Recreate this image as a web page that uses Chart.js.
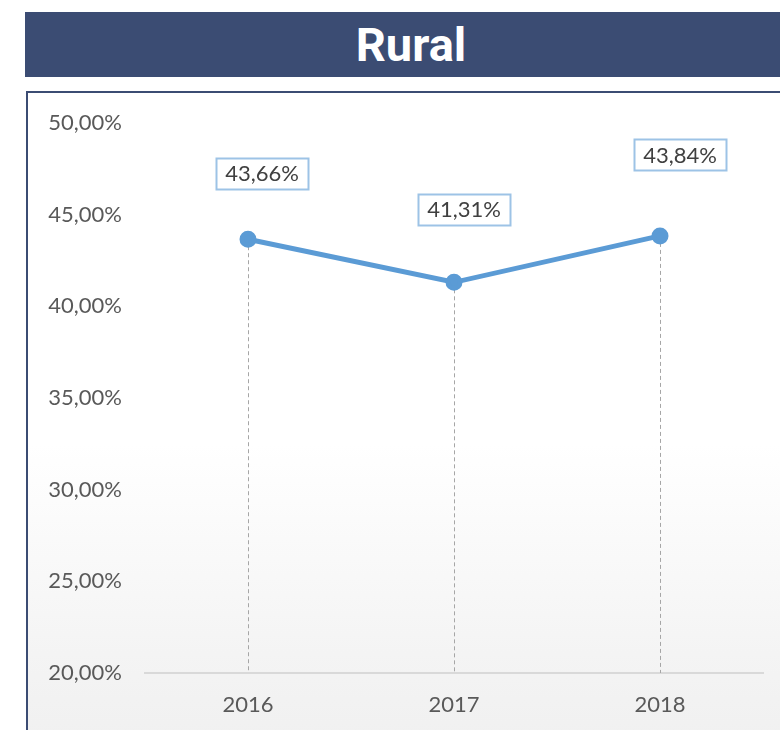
<!DOCTYPE html>
<html>
<head>
<meta charset="utf-8">
<script src="https://cdn.jsdelivr.net/npm/chart.js@4"></script>
<style>
    html, body { margin: 0; padding: 0; background: #ffffff; }
    body { width: 780px; height: 730px; position: relative; overflow: hidden; font-family: Lato, sans-serif; }
    .banner {
        position: absolute; left: 25px; top: 12px; width: 760px; height: 65px;
        background: #3b4c73; color: #ffffff;
        font-family: Roboto, sans-serif; font-weight: bold; font-size: 47px;
        line-height: 65px; text-align: center; box-sizing: border-box; padding-left: 12px;
    }
    .frame {
        position: absolute; left: 26px; top: 91px; width: 780px; height: 700px;
        border-left: 2px solid #3b4c73; border-top: 2px solid #3b4c73;
        background: linear-gradient(180deg, #ffffff 0%, #ffffff 50%, #f4f4f4 80%, #eeeeee 100%);
    }
    #chart-wrap { position: absolute; left: 0; top: 0; width: 780px; height: 730px; }
</style>
</head>
<body>
<div class="banner">Rural</div>
<div class="frame"></div>
<div id="chart-wrap"><canvas id="chart-rural"></canvas></div>
<script>
// Data
const years = ['2016', '2017', '2018'];
const ruralValues = [43.66, 41.31, 43.84];
const yTicks = [20, 25, 30, 35, 40, 45, 50];

function fmtPct(v) {
    return v.toFixed(2).replace('.', ',') + '%';
}

// dashed drop lines from each point down to the axis
const dropLines = {
    id: 'dropLines',
    beforeDatasetsDraw(chart) {
        const ctx = chart.ctx;
        const bottom = chart.chartArea.bottom;
        ctx.save();
        ctx.strokeStyle = '#a6a6a6';
        ctx.lineWidth = 1;
        ctx.setLineDash([4, 3]);
        chart.getDatasetMeta(0).data.forEach(pt => {
            const x = Math.round(pt.x) + 0.5;
            ctx.beginPath();
            ctx.moveTo(x, pt.y);
            ctx.lineTo(x, bottom);
            ctx.stroke();
        });
        ctx.restore();
    }
};

// boxed value labels above each point
const boxLabels = {
    id: 'boxLabels',
    afterDatasetsDraw(chart, args, opts) {
        const ctx = chart.ctx;
        ctx.save();
        ctx.font = '22px Lato, sans-serif';
        ctx.textAlign = 'center';
        ctx.textBaseline = 'middle';
        chart.getDatasetMeta(0).data.forEach((pt, i) => {
            const text = fmtPct(ruralValues[i]);
            const off = opts.offsets[i];
            const cx = pt.x + off[0];
            const cy = pt.y + off[1];
            const w = ctx.measureText(text).width + 18;
            const h = 31;
            ctx.fillStyle = '#ffffff';
            ctx.fillRect(cx - w / 2, cy - h / 2, w, h);
            ctx.strokeStyle = '#9dc3e6';
            ctx.lineWidth = 2;
            ctx.strokeRect(Math.round(cx - w / 2) + 0.5, Math.round(cy - h / 2) + 0.5, Math.round(w), h);
            ctx.fillStyle = '#404040';
            ctx.fillText(text, cx, cy + 1);
        });
        ctx.restore();
    }
};

new Chart(document.getElementById('chart-rural'), {
    type: 'line',
    data: {
        labels: years,
        datasets: [{
            label: 'Rural',
            data: ruralValues,
            borderColor: '#5b9bd5',
            backgroundColor: '#5b9bd5',
            borderWidth: 5,
            pointRadius: 6,
            pointHoverRadius: 6,
            tension: 0
        }]
    },
    options: {
        responsive: true,
        maintainAspectRatio: false,
        animation: false,
        layout: { padding: { top: 123, right: 17, left: 0, bottom: 0 } },
        plugins: {
            legend: { display: false },
            tooltip: { enabled: false },
            boxLabels: { offsets: [[14, -66], [10, -73], [20, -81]] }
        },
        scales: {
            x: {
                offset: true,
                grid: { display: false, drawTicks: false },
                border: { display: true, color: '#d9d9d9', width: 2 },
                ticks: { color: '#595959', padding: 19, font: { family: 'Lato', size: 22 } },
                afterFit: scale => { scale.height = 57; }
            },
            y: {
                min: 20,
                max: 50,
                afterBuildTicks: scale => { scale.ticks = yTicks.map(v => ({ value: v })); },
                grid: { display: false, drawTicks: false },
                border: { display: false },
                ticks: {
                    color: '#595959',
                    padding: 23,
                    font: { family: 'Lato', size: 22 },
                    callback: v => fmtPct(v)
                },
                afterFit: scale => { scale.width = 145; }
            }
        }
    },
    plugins: [dropLines, boxLabels]
});
</script>
</body>
</html>
